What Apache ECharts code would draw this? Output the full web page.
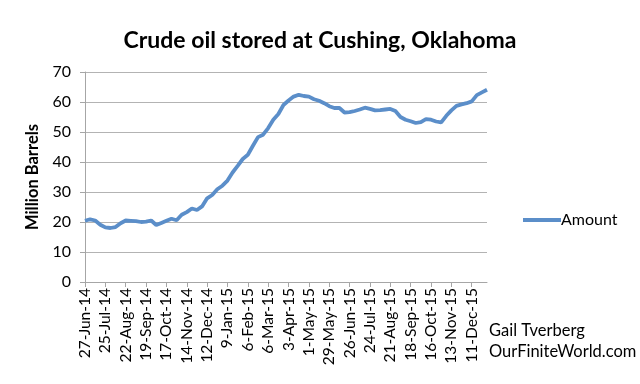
<!DOCTYPE html>
<html>
<head>
<meta charset="utf-8">
<script src="https://cdn.jsdelivr.net/npm/echarts@6/dist/echarts.min.js"></script>
<style>
html,body{margin:0;padding:0;background:#fff;}
#c{width:640px;height:384px;}
</style>
</head>
<body>
<div id="c"></div>
<script>
const categories = [
"27-Jun-14","4-Jul-14","11-Jul-14","18-Jul-14","25-Jul-14","1-Aug-14","8-Aug-14","15-Aug-14","22-Aug-14","29-Aug-14",
"5-Sep-14","12-Sep-14","19-Sep-14","26-Sep-14","3-Oct-14","10-Oct-14","17-Oct-14","24-Oct-14","31-Oct-14","7-Nov-14",
"14-Nov-14","21-Nov-14","28-Nov-14","5-Dec-14","12-Dec-14","19-Dec-14","26-Dec-14","2-Jan-15","9-Jan-15","16-Jan-15",
"23-Jan-15","30-Jan-15","6-Feb-15","13-Feb-15","20-Feb-15","27-Feb-15","6-Mar-15","13-Mar-15","20-Mar-15","27-Mar-15",
"3-Apr-15","10-Apr-15","17-Apr-15","24-Apr-15","1-May-15","8-May-15","15-May-15","22-May-15","29-May-15","5-Jun-15",
"12-Jun-15","19-Jun-15","26-Jun-15","3-Jul-15","10-Jul-15","17-Jul-15","24-Jul-15","31-Jul-15","7-Aug-15","14-Aug-15",
"21-Aug-15","28-Aug-15","4-Sep-15","11-Sep-15","18-Sep-15","25-Sep-15","2-Oct-15","9-Oct-15","16-Oct-15","23-Oct-15",
"30-Oct-15","6-Nov-15","13-Nov-15","20-Nov-15","27-Nov-15","4-Dec-15","11-Dec-15","18-Dec-15","25-Dec-15","1-Jan-16"
];
const amount = [
20.4,20.9,20.5,19.1,18.2,18.0,18.3,19.6,20.5,20.4,
20.3,20.0,20.1,20.5,19.0,19.7,20.4,21.1,20.6,22.4,
23.3,24.5,24.0,25.2,27.9,29.0,30.9,32.1,33.8,36.5,
38.7,41.0,42.4,45.4,48.3,49.1,51.3,54.1,56.0,59.0,
60.5,61.8,62.4,62.0,61.8,60.9,60.4,59.6,58.6,58.0,
58.0,56.5,56.6,57.0,57.5,58.1,57.7,57.2,57.3,57.5,
57.7,57.0,55.0,54.1,53.6,53.0,53.3,54.3,54.1,53.5,
53.2,55.4,57.2,58.7,59.2,59.6,60.2,62.3,63.2,64.1
];
const titleText = "Crude oil stored at Cushing, Oklahoma";
const yAxisName = "Million Barrels";
const seriesName = "Amount";
const creditLines = ["Gail Tverberg", "OurFiniteWorld.com"];

const FONT = "Lato, 'Open Sans', sans-serif";
const chart = echarts.init(document.getElementById('c'), null, {renderer:'canvas'});
chart.setOption({
  animation:false,
  backgroundColor:'#ffffff',
  title:{
    text:titleText, left:'center', top:24,
    textStyle:{fontFamily:FONT, fontWeight:'bold', fontSize:23, color:'#000'}
  },
  legend:{
    data:[seriesName], left:518, top:207, orient:'vertical',
    itemWidth:38, itemHeight:4, itemGap:4,
    icon:'rect',
    textStyle:{fontFamily:FONT, fontSize:16, color:'#000', padding:[0,0,0,-5]}
  },
  graphic:[
    {type:'text', left:489, top:322, style:{text:creditLines[0], font:"16.5px Lato, sans-serif", fill:'#000'}},
    {type:'text', left:489, top:343, style:{text:creditLines[1], font:"16.5px Lato, sans-serif", fill:'#000'}}
  ],
  grid:{left:85, right:153, top:72, bottom:102, containLabel:false},
  xAxis:{
    type:'category', data:categories, boundaryGap:false,
    axisLine:{lineStyle:{color:'#a6a6a6', width:1}},
    axisTick:{show:true, interval:3, length:5, lineStyle:{color:'#a6a6a6'}},
    axisLabel:{interval:3, rotate:90, margin:6, fontFamily:FONT, fontSize:15.5, color:'#000'},
    splitLine:{show:false}
  },
  yAxis:{
    type:'value', min:0, max:70, interval:10,
    name:yAxisName, nameLocation:'middle', nameGap:42,
    nameTextStyle:{fontFamily:FONT, fontWeight:'bold', fontSize:16.5, color:'#000'},
    axisLine:{show:true, lineStyle:{color:'#a6a6a6'}},
    axisTick:{show:true, length:5, lineStyle:{color:'#a6a6a6'}},
    axisLabel:{fontFamily:FONT, fontSize:16, color:'#000', margin:14},
    splitLine:{lineStyle:{color:'#b3b3b3', width:1}}
  },
  series:[{
    name:seriesName, type:'line', data:amount, showSymbol:false, symbol:'none',
    lineStyle:{color:'#5b8ec9', width:3.8}, itemStyle:{color:'#5b8ec9'}
  }]
});
</script>
</body>
</html>
